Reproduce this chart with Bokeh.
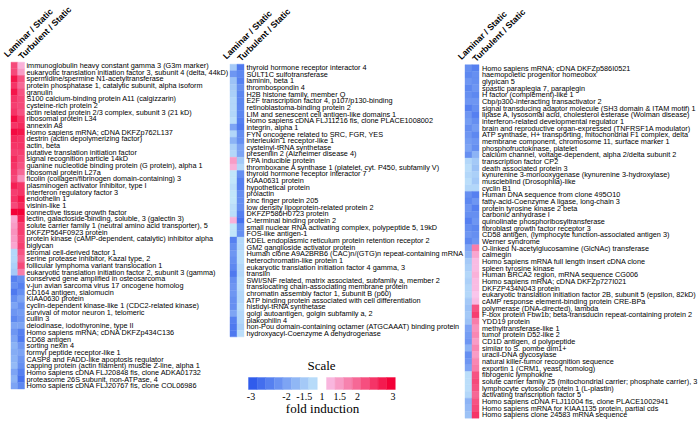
import math
from bokeh.plotting import figure
from bokeh.models import Range1d, ColumnDataSource
from bokeh.core.properties import value
from bokeh.embed import file_html
from bokeh.resources import INLINE

# ---------------- data ----------------
conditions = ["Laminar / Static", "Turbulent / Static"]

genes1 = [
    "immunoglobulin heavy constant gamma 3 (G3m marker)",
    "eukaryotic translation initiation factor 3, subunit 4 (delta, 44kD)",
    "spermidine/spermine N1-acetyltransferase",
    "protein phosphatase 1, catalytic subunit, alpha isoform",
    "granulin",
    "S100 calcium-binding protein A11 (calgizzarin)",
    "cysteine-rich protein 2",
    "actin related protein 2/3 complex, subunit 3 (21 kD)",
    "ribosomal protein L34",
    "annexin A8",
    "Homo sapiens mRNA; cDNA DKFZp762L137",
    "destrin (actin depolymerizing factor)",
    "actin, beta",
    "putative translation initiation factor",
    "signal recognition particle 14kD",
    "guanine nucleotide binding protein (G protein), alpha 1",
    "ribosomal protein L27a",
    "ficolin (collagen/fibrinogen domain-containing) 3",
    "plasminogen activator inhibitor, type I",
    "interferon regulatory factor 3",
    "endothelin 1",
    "visinin-like 1",
    "connective tissue growth factor",
    "lectin, galactoside-binding, soluble, 3 (galectin 3)",
    "solute carrier family 1 (neutral amino acid transporter), 5",
    "DKFZP564F0923 protein",
    "protein kinase (cAMP-dependent, catalytic) inhibitor alpha",
    "biglycan",
    "stromal cell-derived factor 1",
    "serine protease inhibitor, Kazal type, 2",
    "follicular lymphoma variant translocation 1",
    "eukaryotic translation initiation factor 2, subunit 3 (gamma)",
    "conserved gene amplified in osteosarcoma",
    "v-jun avian sarcoma virus 17 oncogene homolog",
    "CD164 antigen, sialomucin",
    "KIAA0630 protein",
    "cyclin-dependent kinase-like 1 (CDC2-related kinase)",
    "survival of motor neuron 1, telomeric",
    "cullin 3",
    "deiodinase, iodothyronine, type II",
    "Homo sapiens mRNA; cDNA DKFZp434C136",
    "CD68 antigen",
    "sorting nexin 4",
    "formyl peptide receptor-like 1",
    "CASP8 and FADD-like apoptosis regulator",
    "capping protein (actin filament) muscle Z-line, alpha 1",
    "Homo sapiens cDNA FLJ20848 fis, clone ADKA01732",
    "proteasome 26S subunit, non-ATPase, 4",
    "Homo sapiens cDNA FLJ20767 fis, clone COL06986",
]
laminar1 = [2.3, 2.3, 2.8, 2.5, 2.8, 2.5, 2.4, 2.5, 2.9, 2.5, 2.9, 2.6, 2.5, 2.4, 2.6, 2.5, 2.4,
            2.3, 2.7, 2.4, 2.5, 2.3, 3.0, 1.4, 1.5, 1.6, 1.5, 1.4, -1.3, -1.3, -1.4, -1.5,
            -2.5, -2.3, -2.6, -2.3, -2.0, -2.2, -2.4, -2.0, -2.2, -2.0, -1.8, -1.9, -1.8, -1.7,
            -2.0, -1.8, -2.0]
turbulent1 = [1.3, 1.5, 2.2, 2.0, 2.2, 2.3, 2.3, 2.2, 2.5, 2.6, 2.8, 2.5, 2.5, 2.4, 2.3, 2.2, 2.0,
              1.6, 2.5, 2.5, 2.8, 2.6, 3.0, 2.7, 2.4, 2.4, 2.3, 2.4, 2.2, 2.0, 2.3, 1.8,
              -2.3, -2.5, -2.3, -2.0, -2.3, -2.1, -2.2, -2.0, -2.5, -2.6, -2.2, -2.0, -2.2, -2.3,
              -2.5, -2.7, -2.4]

genes2 = [
    "thyroid hormone receptor interactor 4",
    "SULT1C sulfotransferase",
    "laminin, beta 1",
    "thrombospondin 4",
    "H2B histone family, member Q",
    "E2F transcription factor 4, p107/p130-binding",
    "retinoblastoma-binding protein 2",
    "LIM and senescent cell antigen-like domains 1",
    "Homo sapiens cDNA FLJ11216 fis, clone PLACE1008002",
    "integrin, alpha 1",
    "FYN oncogene related to SRC, FGR, YES",
    "interleukin 1 receptor-like 1",
    "cysteinyl-tRNA synthetase",
    "presenilin 2 (Alzheimer disease 4)",
    "TPA inducible protein",
    "thromboxane A synthase 1 (platelet, cyt. P450, subfamily V)",
    "thyroid hormone receptor interactor 7",
    "KIAA0631 protein",
    "hypothetical protein",
    "prolactin",
    "zinc finger protein 205",
    "low density lipoprotein-related protein 2",
    "DKFZP586H0723 protein",
    "C-terminal binding protein 2",
    "small nuclear RNA activating complex, polypeptide 5, 19kD",
    "FOS-like antigen-1",
    "KDEL endoplasmic reticulum protein retention receptor 2",
    "GM2 ganglioside activator protein",
    "Human clone A9A2BRB6 (CAC)n/(GTG)n repeat-containing mRNA",
    "heterochromatin-like protein 1",
    "eukaryotic translation initiation factor 4 gamma, 3",
    "translin",
    "SWI/SNF related, matrix associated, subfamily a, member 2",
    "translocating chain-associating membrane protein",
    "chromatin assembly factor 1, subunit B (p60)",
    "ATP binding protein associated with cell differentiation",
    "histidyl-tRNA synthetase",
    "golgi autoantigen, golgin subfamily a, 2",
    "plakophilin 4",
    "non-Pou domain-containing octamer (ATGCAAAT) binding protein",
    "hydroxyacyl-Coenzyme A dehydrogenase",
]
laminar2 = [-1.5, -2.2, -1.6, -1.5, -1.4, -1.3, -1.3, -1.3, -1.2, -2.0, -1.3, -1.8, -1.4, -1.3,
            1.5, 1.3, -1.1, -1.1, -1.2, -1.1, -1.1, -1.2, -1.2, 1.3, -1.1, -1.1,
            -2.5, -2.3, -2.2, -2.3, -2.4, -2.6, -2.3, -2.2, -2.2, -2.3, -2.3, -2.0, -2.5, -2.6, -2.6]
turbulent2 = [-2.6, -2.4, -2.5, -2.3, -2.4, -2.4, -2.4, -2.4, -2.5, -2.6, -2.3, -2.3, -2.0, -2.0,
              -1.5, -1.3, -2.3, -2.5, -2.5, -2.3, -2.3, -2.3, -2.5, -2.7, -2.3, -2.3,
              -1.3, -1.3, -1.2, -1.2, -1.3, -1.3, -1.2, -1.2, -1.3, -1.3, -1.2, -1.3, -1.3, -1.4, -1.2]

genes3 = [
    "Homo sapiens mRNA; cDNA DKFZp586I0521",
    "haemopoietic progenitor homeobox",
    "glypican 5",
    "spastic paraplegia 7, paraplegin",
    "H factor (complement)-like 1",
    "Cbp/p300-interacting transactivator 2",
    "signal transducing adaptor molecule (SH3 domain & ITAM motif) 1",
    "lipase A, lysosomal acid, cholesterol esterase (Wolman disease)",
    "interferon-related developmental regulator 1",
    "brain and reproductive organ-expressed (TNFRSF1A modulator)",
    "ATP synthase, H+ transporting, mitochondrial F1 complex, delta",
    "membrane component, chromosome 11, surface marker 1",
    "phosphofructokinase, platelet",
    "calcium channel, voltage-dependent, alpha 2/delta subunit 2",
    "transcription factor CP2",
    "death associated protein 3",
    "kynurenine 3-monooxygenase (kynurenine 3-hydroxylase)",
    "muscleblind (Drosophila)-like",
    "cyclin B1",
    "Human DNA sequence from clone 495O10",
    "fatty-acid-Coenzyme A ligase, long-chain 3",
    "protein tyrosine kinase 2 beta",
    "carbonic anhydrase I",
    "quinolinate phosphoribosyltransferase",
    "fibroblast growth factor receptor 3",
    "CD58 antigen, (lymphocyte function-associated antigen 3)",
    "Werner syndrome",
    "O-linked N-acetylglucosamine (GlcNAc) transferase",
    "calmegin",
    "Homo sapiens mRNA full length insert cDNA clone",
    "spleen tyrosine kinase",
    "Human BRCA2 region, mRNA sequence CG006",
    "Homo sapiens mRNA; cDNA DKFZp727I021",
    "DKFZP434N043 protein",
    "eukaryotic translation initiation factor 2B, subunit 5 (epsilon, 82kD)",
    "cAMP response element-binding protein CRE-BPa",
    "polymerase (DNA-directed), lambda",
    "F-box protein Fbw1b; beta-transducin repeat-containing protein 2",
    "YDD19 protein",
    "methyltransferase-like 1",
    "tumor protein D52-like 2",
    "CD1D antigen, d polypeptide",
    "similar to S. pombe dim1+",
    "uracil-DNA glycosylase",
    "natural killer-tumor recognition sequence",
    "exportin 1 (CRM1, yeast, homolog)",
    "fibrogenic lymphokine",
    "solute carrier family 25 (mitochondrial carrier; phosphate carrier), 3",
    "lymphocyte cytosolic protein 1 (L-plastin)",
    "activating transcription factor 5",
    "Homo sapiens cDNA FLJ11004 fis, clone PLACE1002941",
    "Homo sapiens mRNA for KIAA1135 protein, partial cds",
    "Homo sapiens clone 24583 mRNA sequence",
]
laminar3 = [-2.3, -2.4, -2.2, -2.4, -2.3, -2.2, -2.5, -2.2, -2.1, -2.3, -2.2, -2.1, -2.0, -2.3,
            -1.3, -1.2, -1.3, -1.2, -1.3, -2.3, -2.4, -2.2, -2.3, -2.5, -2.3, -2.2, -2.4,
            -2.0, -1.8, -1.5, -1.4, -1.3, -1.4, -1.3, -1.3, -1.5, -1.6, -1.5, -1.6, -2.0,
            -2.1, -2.2, -1.8, -2.3, -2.2, -2.0, -1.2, -1.2, -1.2, -1.3, -1.8, -1.7, -1.6]
turbulent3 = [-2.5, -2.3, -2.3, -2.2, -2.4, -2.2, -2.3, -2.5, -2.3, -2.1, -2.4, -2.2, -2.3, -1.8,
              -1.5, -1.6, -1.4, -1.5, -1.3, -2.5, -2.2, -2.5, -2.3, -2.2, -2.4, -2.3, -2.2,
              1.8, 1.4, 1.2, 1.2, 1.3, 1.2, 1.2, 1.1, 1.2, 2.2, 2.4, 1.8, 1.6,
              1.7, 1.5, 1.7, 1.5, 1.7, 1.8, 2.2, 2.3, 2.2, 2.0, 2.2, 2.3, 2.5]

legend_blue = [-3.0, -2.75, -2.5, -2.25, -2.0, -1.75, -1.5, -1.25]
legend_pink = [1.25, 1.5, 1.75, 2.0, 2.25, 2.5, 2.75, 3.0]
tick_values = [-3, -2, -1.5, 1, 1.5, 2, 3]
tick_labels = ["-3", "-2", "-1.5", "1", "1.5", "2", "3"]


# ---------------- colour mapping ----------------
def fold_color(v):
    if v >= 1:
        t = min((v - 1) / 2.0, 1.0)
        lo, hi = (250, 208, 246), (243, 0, 55)
    elif v <= -1:
        t = min((-v - 1) / 2.0, 1.0)
        lo, hi = (202, 237, 251), (48, 92, 236)
    else:
        return "#ffffff"
    r, g, b = [int(round(lo[k] + (hi[k] - lo[k]) * t)) for k in range(3)]
    return "#%02x%02x%02x" % (r, g, b)


# ---------------- figure ----------------
W, H = 700, 423
p = figure(width=W, height=H, x_range=Range1d(0, W), y_range=Range1d(H, 0),
           output_backend="svg", toolbar_location=None, min_border=0)
p.axis.visible = False
p.grid.visible = False
p.outline_line_color = None
p.background_fill_color = "white"

LABEL_FONT = value("Liberation Sans")
SERIF = value("Liberation Serif")

panels = [
    dict(genes=genes1, lam=laminar1, tur=turbulent1, x0=10.5, cw=6.75, y0=61.7, rh=6.67, lx=26.0),
    dict(genes=genes2, lam=laminar2, tur=turbulent2, x0=229.5, cw=7.0, y0=63.7, rh=6.65, lx=246.0),
    dict(genes=genes3, lam=laminar3, tur=turbulent3, x0=464.5, cw=7.0, y0=64.2, rh=6.67, lx=481.5),
]

for pn in panels:
    n = len(pn["genes"])
    ys = [pn["y0"] + (i + 0.5) * pn["rh"] for i in range(n)]
    xs, yy, cols = [], [], []
    for j, vals in enumerate([pn["lam"], pn["tur"]]):
        for i, v in enumerate(vals):
            xs.append(pn["x0"] + (j + 0.5) * pn["cw"])
            yy.append(ys[i])
            cols.append(fold_color(v))
    src = ColumnDataSource(dict(x=xs, y=yy, c=cols))
    p.rect(x="x", y="y", width=pn["cw"], height=pn["rh"], fill_color="c", line_color="c",
           line_width=0.4, source=src)
    p.text(x=[pn["lx"]] * n, y=ys, text=pn["genes"], text_font=LABEL_FONT,
           text_font_size="7.3px", text_baseline="middle", text_align="left",
           text_color="black")
    # rotated column headers (one per condition)
    hx = [pn["x0"] - 5.5, pn["x0"] + 9.0]
    hy = [pn["y0"] - 6.5, pn["y0"] - 4.5]
    p.text(x=hx, y=hy, text=conditions, angle=math.pi / 4, text_font=LABEL_FONT,
           text_font_size="8.7px", text_font_style="bold", text_baseline="alphabetic",
           text_align="left", text_color="black")

# ---------------- scale legend ----------------
bx0, px0, bw = 248.0, 326.0, 8.6
leg_x = [bx0 + (i + 0.5) * bw for i in range(len(legend_blue))] + \
        [px0 + (i + 0.5) * bw for i in range(len(legend_pink))]
leg_c = [fold_color(v) for v in legend_blue + legend_pink]
p.rect(x=leg_x, y=[383] * len(leg_x), width=bw, height=12, fill_color=leg_c,
       line_color=leg_c, line_width=0.4)

center, unit = 321.5, 35.5
tick_x = [center + math.copysign(abs(v) - 1, v) * unit for v in tick_values]
p.text(x=tick_x, y=[395.5] * len(tick_x), text=tick_labels, text_font=SERIF,
       text_font_size="10px", text_align="center", text_baseline="middle", text_color="black")
p.text(x=[321], y=[365], text=["Scale"], text_font=SERIF, text_font_size="13px",
       text_align="center", text_baseline="middle", text_color="black")
p.text(x=[322], y=[408], text=["fold induction"], text_font=SERIF, text_font_size="13px",
       text_align="center", text_baseline="middle", text_color="black")

open("out.html", "w").write(file_html(p, INLINE))
